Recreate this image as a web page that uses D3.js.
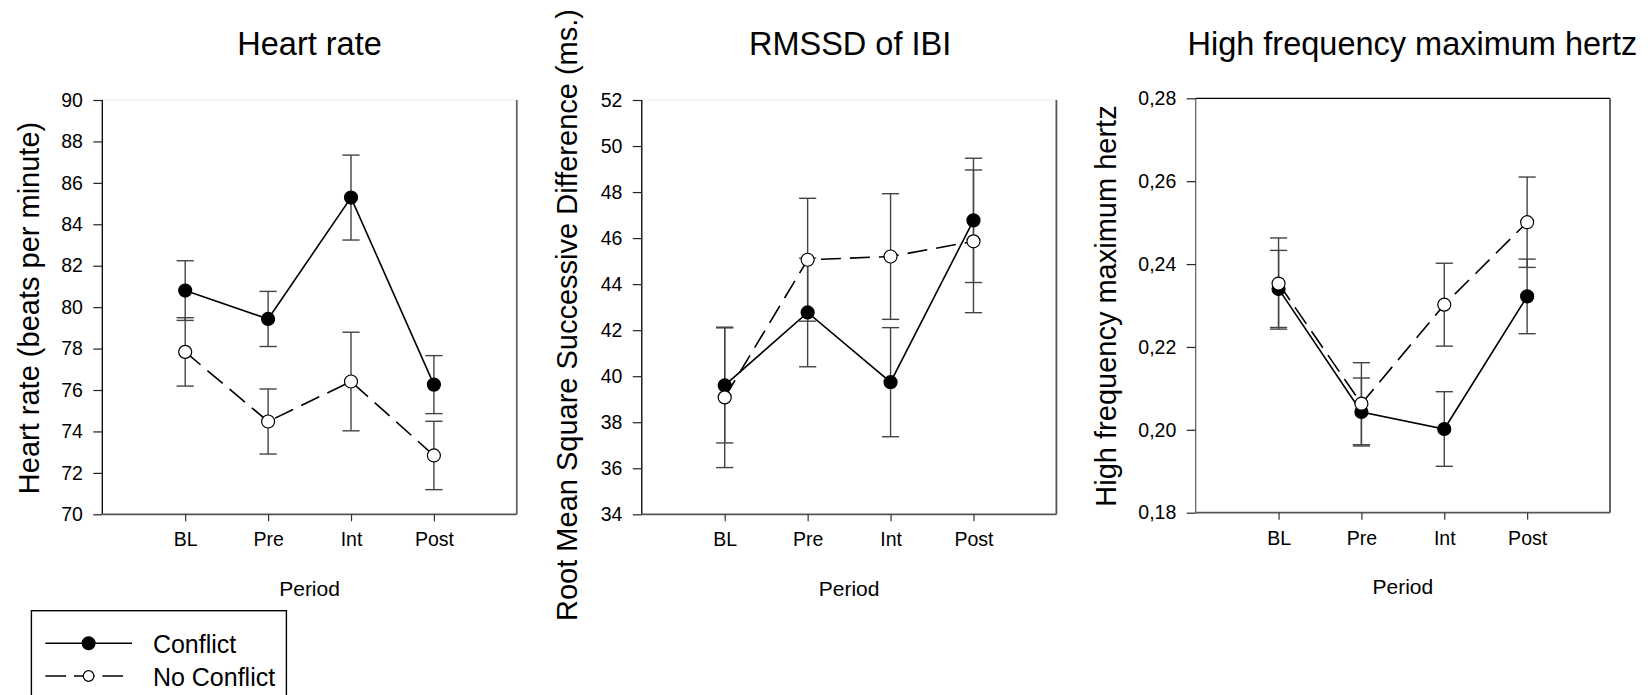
<!DOCTYPE html>
<html>
<head>
<meta charset="utf-8">
<script src="https://cdn.jsdelivr.net/npm/d3@7"></script>
<style>
  body { margin: 0; background: #fff; }
  svg { display: block; font-family: "Liberation Sans", Arial, sans-serif; }
</style>
</head>
<body>
<div id="chart"></div>
<script>
// categories
var periods = ["BL", "Pre", "Int", "Post"];
var seriesNames = ["Conflict", "No Conflict"];

// heart rate (beats per minute)
var hrConflict = [80.80, 79.43, 85.29, 76.26];
var hrConflictErr = [1.44, 1.33, 2.05, 1.40];
var hrNoConflict = [77.84, 74.48, 76.41, 72.84];
var hrNoConflictErr = [1.65, 1.57, 2.38, 1.65];
var hrTicks = [70, 72, 74, 76, 78, 80, 82, 84, 86, 88, 90];

// RMSSD of IBI (ms.)
var rmssdConflict = [39.60, 42.77, 39.74, 46.77];
var rmssdConflictErr = [2.50, 2.36, 2.37, 2.70];
var rmssdNoConflict = [39.08, 45.06, 45.20, 45.86];
var rmssdNoConflictErr = [3.05, 2.67, 2.73, 3.10];
var rmssdTicks = [34, 36, 38, 40, 42, 44, 46, 48, 50, 52];

// high frequency maximum hertz
var hfConflict = [0.2340, 0.2043, 0.2002, 0.2322];
var hfConflictErr = [0.0093, 0.0082, 0.0090, 0.0090];
var hfNoConflict = [0.2353, 0.2063, 0.2302, 0.2501];
var hfNoConflictErr = [0.0110, 0.0099, 0.0100, 0.0109];
var hfTicks = [0.18, 0.20, 0.22, 0.24, 0.26, 0.28];

var commaFormat = d3.formatLocale({decimal: ",", thousands: ".", grouping: [3], currency: ["", ""]}).format(".2f");

var panels = [
  {title: "Heart rate", ylabel: "Heart rate (beats per minute)",
   conflict: hrConflict, conflictErr: hrConflictErr, noConflict: hrNoConflict, noConflictErr: hrNoConflictErr,
   ticks: hrTicks, fmt: d3.format("d"),
   left: 102.3, top: 100, width: 414.5, height: 414.3, titleDx: 0, ylabX: 38.6, ylabY: 308,
   topColor: "#eeeeee", leftColor: "#000", rightColor: "#666", bottomColor: "#555"},
  {title: "RMSSD of IBI", ylabel: "Root Mean Square Successive Difference (ms.)",
   conflict: rmssdConflict, conflictErr: rmssdConflictErr, noConflict: rmssdNoConflict, noConflictErr: rmssdNoConflictErr,
   ticks: rmssdTicks, fmt: d3.format("d"),
   left: 641.8, top: 100, width: 414.6, height: 414.3, titleDx: 1, ylabX: 576.7, ylabY: 315,
   topColor: "#eeeeee", leftColor: "#000", rightColor: "#555", bottomColor: "#555"},
  {title: "High frequency maximum hertz", ylabel: "High frequency maximum hertz",
   conflict: hfConflict, conflictErr: hfConflictErr, noConflict: hfNoConflict, noConflictErr: hfNoConflictErr,
   ticks: hfTicks, fmt: commaFormat,
   left: 1195.7, top: 98.3, width: 414.3, height: 414.4, titleDx: 9.5, ylabX: 1116.4, ylabY: 306,
   topColor: "#000", leftColor: "#666", rightColor: "#555", bottomColor: "#555"}
];

var svg = d3.select("#chart").append("svg")
    .attr("width", 1651)
    .attr("height", 695);

panels.forEach(function(p) {
  var x = d3.scaleLinear().domain([0, 5]).range([0, p.width]);
  var y = d3.scaleLinear().domain([p.ticks[0], p.ticks[p.ticks.length - 1]]).range([p.height, 0]);

  var g = svg.append("g")
      .attr("transform", "translate(" + p.left + "," + p.top + ")");

  // title
  svg.append("text")
      .attr("x", p.left + p.width / 2 + p.titleDx)
      .attr("y", 54.5)
      .attr("text-anchor", "middle")
      .style("font-size", "32.5px")
      .text(p.title);

  // y label
  svg.append("text")
      .attr("transform", "translate(" + p.ylabX + "," + p.ylabY + ") rotate(-90)")
      .attr("text-anchor", "middle")
      .style("font-size", "29px")
      .text(p.ylabel);

  // frame top / right
  g.append("line").attr("x1", 0).attr("x2", p.width).attr("y1", 0).attr("y2", 0)
      .attr("stroke", p.topColor).attr("stroke-width", 1.2);
  g.append("line").attr("x1", p.width).attr("x2", p.width).attr("y1", 0).attr("y2", p.height)
      .attr("stroke", p.rightColor).attr("stroke-width", 1.8);

  var yAxis = d3.axisLeft(y).tickValues(p.ticks).tickFormat(p.fmt).tickSize(9).tickPadding(10.4);
  var xAxis = d3.axisBottom(x).tickValues([1, 2, 3, 4])
      .tickFormat(function(i) { return periods[i - 1]; })
      .tickSize(7).tickPadding(11.2);

  var ya = g.append("g").call(yAxis);
  ya.select(".domain").attr("d", "M0,0V" + p.height).attr("stroke", p.leftColor).attr("stroke-width", 1.3);
  ya.selectAll(".tick line").attr("stroke", "#222").attr("stroke-width", 1.2);
  ya.selectAll(".tick text").style("font-size", "19.5px").attr("fill", "#000")
      .style("font-family", "Liberation Sans, Arial, sans-serif");

  var xa = g.append("g").attr("transform", "translate(0," + p.height + ")").call(xAxis);
  xa.select(".domain").attr("d", "M0,0H" + p.width).attr("stroke", p.bottomColor).attr("stroke-width", 1.8);
  xa.selectAll(".tick line").attr("stroke", "#333").attr("stroke-width", 1.2);
  xa.selectAll(".tick text").style("font-size", "19.5px").attr("fill", "#000")
      .style("font-family", "Liberation Sans, Arial, sans-serif");

  // x label
  g.append("text")
      .attr("x", p.width / 2)
      .attr("y", p.height + 81.5)
      .attr("text-anchor", "middle")
      .style("font-size", "21px")
      .text("Period");

  var series = [
    {vals: p.conflict, errs: p.conflictErr, fill: "#000", dash: null},
    {vals: p.noConflict, errs: p.noConflictErr, fill: "#fff", dash: "20,9"}
  ];

  // error bars
  series.forEach(function(s) {
    var eb = g.append("g").attr("stroke", "#444").attr("stroke-width", 1.4);
    s.vals.forEach(function(v, i) {
      var cx = x(i + 1);
      eb.append("line").attr("x1", cx).attr("x2", cx)
          .attr("y1", y(v - s.errs[i])).attr("y2", y(v + s.errs[i]));
      eb.append("line").attr("x1", cx - 8.6).attr("x2", cx + 8.6)
          .attr("y1", y(v - s.errs[i])).attr("y2", y(v - s.errs[i]));
      eb.append("line").attr("x1", cx - 8.6).attr("x2", cx + 8.6)
          .attr("y1", y(v + s.errs[i])).attr("y2", y(v + s.errs[i]));
    });
  });

  var line = d3.line()
      .x(function(d, i) { return x(i + 1); })
      .y(function(d) { return y(d); });

  series.forEach(function(s) {
    g.append("path")
        .datum(s.vals)
        .attr("d", line)
        .attr("fill", "none")
        .attr("stroke", "#000")
        .attr("stroke-width", 1.6)
        .attr("stroke-dasharray", s.dash);
    g.selectAll(null)
        .data(s.vals)
      .enter().append("circle")
        .attr("cx", function(d, i) { return x(i + 1); })
        .attr("cy", function(d) { return y(d); })
        .attr("r", 6.5)
        .attr("fill", s.fill)
        .attr("stroke", "#000")
        .attr("stroke-width", 1.2);
  });
});

// legend
var legend = svg.append("g");
legend.append("rect")
    .attr("x", 31.4).attr("y", 610.7)
    .attr("width", 255).attr("height", 120)
    .attr("fill", "none").attr("stroke", "#000").attr("stroke-width", 1.4);

var legendRows = [
  {name: seriesNames[0], y: 643.2, fill: "#000", r: 6.4, x2: 132, dash: null},
  {name: seriesNames[1], y: 676, fill: "#fff", r: 5.3, x2: 123.2, dash: "20.7,7.8"}
];
legendRows.forEach(function(r) {
  legend.append("line")
      .attr("x1", 45.4).attr("x2", r.x2)
      .attr("y1", r.y).attr("y2", r.y)
      .attr("stroke", "#000").attr("stroke-width", 1.6)
      .attr("stroke-dasharray", r.dash);
  legend.append("circle")
      .attr("cx", 88.6).attr("cy", r.y).attr("r", r.r)
      .attr("fill", r.fill).attr("stroke", "#000").attr("stroke-width", 1.2);
  legend.append("text")
      .attr("x", 152.9).attr("y", r.y + 10.2)
      .style("font-size", "25px")
      .text(r.name);
});
</script>
</body>
</html>
